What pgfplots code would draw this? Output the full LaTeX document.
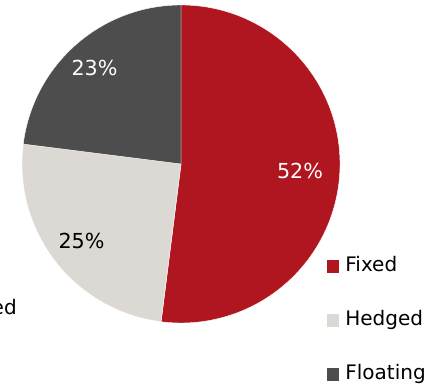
\documentclass[border=0pt]{standalone}
\usepackage{pgfplots}
\pgfplotsset{compat=1.18}
\usepackage{fontspec}
\setmainfont{DejaVu Sans}
\definecolor{cFixed}{RGB}{176,22,32}
\definecolor{cHedged}{RGB}{220,217,213}
\definecolor{cFloat}{RGB}{77,77,77}
% shares in percent
\def\vFixed{52}
\def\vHedged{25}
\def\vFloat{23}
\begin{document}
\begin{tikzpicture}
\pgfmathsetmacro{\aA}{90}
\pgfmathsetmacro{\aB}{90-3.6*\vFixed}
\pgfmathsetmacro{\aC}{\aB-3.6*\vHedged}
\pgfmathsetmacro{\aD}{\aC-3.6*\vFloat}
\begin{axis}[
  x=0.75pt, y=0.75pt,
  xmin=0, xmax=428, ymin=0, ymax=384,
  scale only axis, hide axis, clip=false,
  anchor=south west, at={(0,0)},
  font=\fontsize{15.5}{19}\selectfont,
  legend cell align=left,
  legend image code/.code={\fill[#1, draw=none] (0pt,-4.6pt) rectangle (9pt,4.6pt); \path (13.4pt,0pt);},
  legend style={at={(axis cs:327,-0.7)}, anchor=south west, draw=none, fill=none,
    inner sep=0pt, row sep=25.5pt, column sep=0pt,
    nodes={inner sep=0pt, text height=11.5pt, text depth=3.5pt, font=\fontsize{15}{18}\selectfont}},
]
\addlegendimage{fill=cFixed}
\addlegendentry{Fixed}
\addlegendimage{fill=cHedged}
\addlegendentry{Hedged}
\addlegendimage{fill=cFloat}
\addlegendentry{Floating}
\fill[cFixed, draw=white, line width=0.3pt] (axis cs:181,220) -- ++(\aA:119.25pt) arc[start angle=\aA, end angle=\aB, radius=119.25pt] -- cycle;
\fill[cHedged, draw=white, line width=0.3pt] (axis cs:181,220) -- ++(\aB:119.25pt) arc[start angle=\aB, end angle=\aC, radius=119.25pt] -- cycle;
\fill[cFloat, draw=white, line width=0.3pt] (axis cs:181,220) -- ++(\aC:119.25pt) arc[start angle=\aC, end angle=\aD, radius=119.25pt] -- cycle;
\node[anchor=base, text=white] at (axis cs:300,205) {52\%};
\node[anchor=base, text=black] at (axis cs:81.5,135) {25\%};
\node[anchor=base, text=white] at (axis cs:94.5,308) {23\%};
\node[anchor=base east, inner sep=0pt, font=\fontsize{15}{18}\selectfont] at (axis cs:17,69) {Hedged};
\end{axis}
\pgfresetboundingbox
\path (0,0) rectangle (321pt,288pt);
\end{tikzpicture}
\end{document}
